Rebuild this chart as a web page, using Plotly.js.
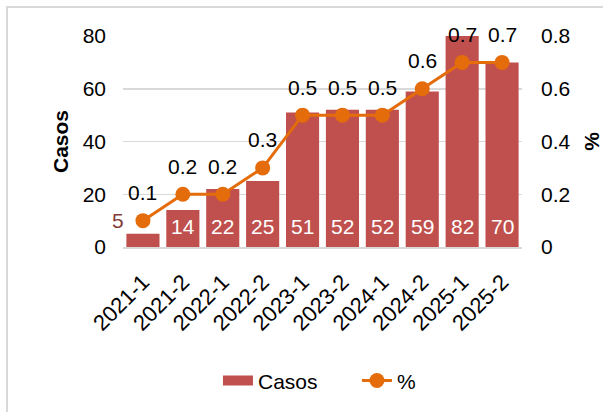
<!DOCTYPE html>
<html><head><meta charset="utf-8">
<script src="https://cdn.plot.ly/plotly-3.0.1.min.js"></script>
<style>
html,body{margin:0;padding:0;background:#fff;}
#chart{width:603px;height:412px;position:absolute;left:0;top:0;}
#frame{position:absolute;left:6px;top:6px;width:700px;height:500px;border:2px solid #D9D9D9;pointer-events:none;}
</style></head>
<body>
<div id="chart"></div>
<div id="frame"></div>
<script>
const categories = ["2021-1","2021-2","2022-1","2022-2","2023-1","2023-2","2024-1","2024-2","2025-1","2025-2"];
const casos = [5,14,22,25,51,52,52,59,82,70];
const pct = [0.1,0.2,0.2,0.3,0.5,0.5,0.5,0.6,0.7,0.7];
const leftTicks = [0,20,40,60,80];
const rightTicks = [0,0.2,0.4,0.6,0.8];

const FONT = "Liberation Sans, Arial, sans-serif";
const FS = 21;

const bar = {
  type:'bar', x:categories, y:casos, name:'Casos', showlegend:false,
  marker:{color:'#C0504D'}, yaxis:'y', hoverinfo:'none'
};
const barLegend = {
  type:'scatter', mode:'lines', x:[categories[0]], y:[null], name:'Casos',
  line:{color:'#C0504D', width:10}, yaxis:'y', hoverinfo:'none'
};
const line = {
  type:'scatter', mode:'lines+markers', x:categories, y:pct, name:'%',
  line:{color:'#E46C0A', width:3}, marker:{color:'#E46C0A', size:15},
  yaxis:'y2', hoverinfo:'none', cliponaxis:false
};

const annotations = [];
casos.forEach((v,i)=>{
  if (i===0) {
    annotations.push({x:categories[i], y:v, xref:'x', yref:'y', text:String(v), showarrow:false,
      xshift:-25, yshift:13, font:{family:FONT,size:FS,color:'#833C3A'}});
  } else {
    annotations.push({x:categories[i], y:0, xref:'x', yref:'y', text:String(v), showarrow:false,
      yanchor:'middle', yshift:21, font:{family:FONT,size:FS,color:'#ffffff'}});
  }
});
pct.forEach((v,i)=>{
  annotations.push({x:categories[i], y:v, xref:'x', yref:'y2', text:String(v), showarrow:false,
    yanchor:'middle', yshift:28, font:{family:FONT,size:FS,color:'#000000'}});
});

const layout = {
  width:603, height:412,
  margin:{l:123, r:81, t:36, b:164},
  paper_bgcolor:'rgba(0,0,0,0)', plot_bgcolor:'#fff',
  font:{family:FONT, size:FS, color:'#000'},
  bargap:0.17,
  showlegend:true,
  legend:{orientation:'h', x:0.238, xanchor:'left', y:-0.53, yanchor:'top', font:{size:FS}, entrywidth:94},
  xaxis:{type:'category', range:[-0.5, categories.length-0.5], automargin:false, tickangle:-45, showgrid:false, zeroline:false, showline:true, linecolor:'#D9D9D9', linewidth:1.5, ticks:'', tickfont:{size:22}, ticklabelstandoff:12},
  yaxis:{range:[0,80], automargin:false, tickvals:leftTicks, showgrid:true, gridcolor:'#D9D9D9', gridwidth:1.5, zeroline:false, ticks:'', tickfont:{size:FS}, ticklabelstandoff:16,
         title:{text:'<b>Casos</b>', font:{size:FS}, standoff:8}},
  yaxis2:{range:[0,0.8], automargin:false, tickvals:rightTicks, overlaying:'y', side:'right', showgrid:false, zeroline:false, ticks:'', tickfont:{size:FS}, ticklabelstandoff:18,
         title:{text:'<b>%</b>', font:{size:FS}, standoff:14}},
  annotations:annotations
};
Plotly.newPlot('chart',[bar,barLegend,line],layout,{staticPlot:true});
</script>
</body></html>
